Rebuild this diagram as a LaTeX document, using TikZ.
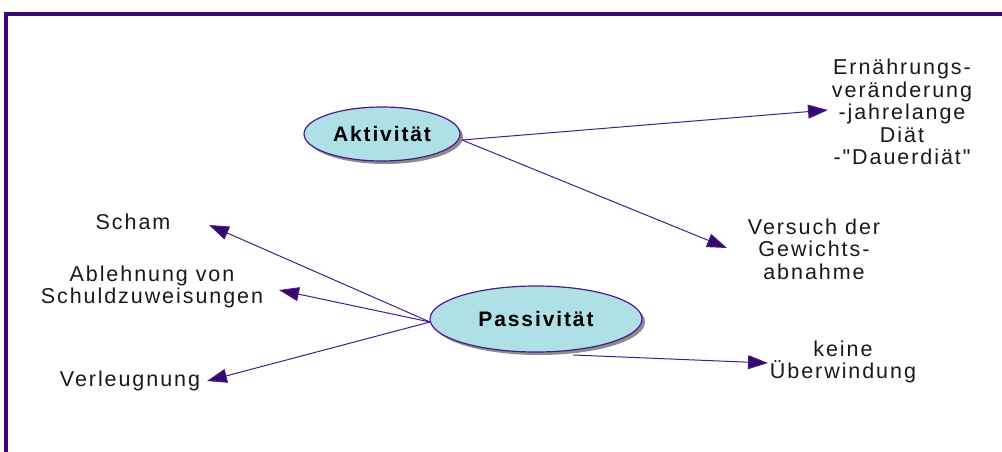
\documentclass[tikz,border=0pt]{standalone}
\usepackage{fontspec}
\setmainfont{Liberation Sans}[LetterSpace=9, Ligatures=TeXOff]
\usetikzlibrary{shapes.geometric,arrows.meta,shadows}
\definecolor{frame}{HTML}{3A0A72}
\definecolor{edge}{HTML}{4A1A8A}
\definecolor{tip}{HTML}{350870}
\definecolor{ellfill}{HTML}{AEE0E6}
\tikzset{
  hub/.style={ellipse, draw=edge, line width=1.2pt, fill=ellfill, inner sep=0pt,
    font=\fontsize{21}{22}\selectfont\bfseries,
    drop shadow={shadow xshift=3pt, shadow yshift=-3pt, fill=black!45, opacity=1}},
  lbl/.style={align=center, inner sep=0pt, font=\fontsize{21.5}{22.5}\selectfont, text=black!90},
  conn/.style={draw=edge, line width=1pt, -{Triangle[length=20pt,width=14pt,fill=tip]}}
}
\begin{document}
\begin{tikzpicture}[x=1pt,y=-1pt]
\useasboundingbox (0,0) rectangle (1002,452);
% frame
\draw[frame, line width=4pt] (6,452) -- (6,14) -- (1002,14);
% hubs
\node[hub, minimum width=156pt, minimum height=54pt] (akt) at (382,134) {Aktivität};
\node[hub, minimum width=212pt, minimum height=66pt] (pas) at (536,319) {Passivität};
% labels
\node[lbl] (ern) at (902,112) {Ernährungs-\\veränderung\\-jahrelange\\Diät\\-"Dauerdiät"};
\node[lbl] (vers) at (814,249) {Versuch der\\Gewichts-\\abnahme};
\node[lbl] (scham) at (133,222) {Scham};
\node[lbl] (abl) at (152,287) {Ablehnung von\\Schuldzuweisungen};
\node[lbl] (verl) at (130,381) {Verleugnung};
\node[lbl] (keine) at (843,362) {keine\\Überwindung};
% arrow end points
\coordinate (tErn) at (828,110);
\coordinate (tVers) at (727,248);
\coordinate (tScham) at (209,225);
\coordinate (tAbl) at (279,290);
\coordinate (tVerl) at (207,381);
\coordinate (tKeine) at (768,363);
\coordinate (sAkt) at (462,140);
\coordinate (sPas) at (430,322);
\coordinate (sPas2) at (573,355);
% connectors
\draw[conn] (sAkt) -- (tErn);
\draw[conn] (sAkt) -- (tVers);
\draw[conn] (sPas) -- (tScham);
\draw[conn] (sPas) -- (tAbl);
\draw[conn] (sPas) -- (tVerl);
\draw[conn] (sPas2) -- (tKeine);
\end{tikzpicture}
\end{document}
